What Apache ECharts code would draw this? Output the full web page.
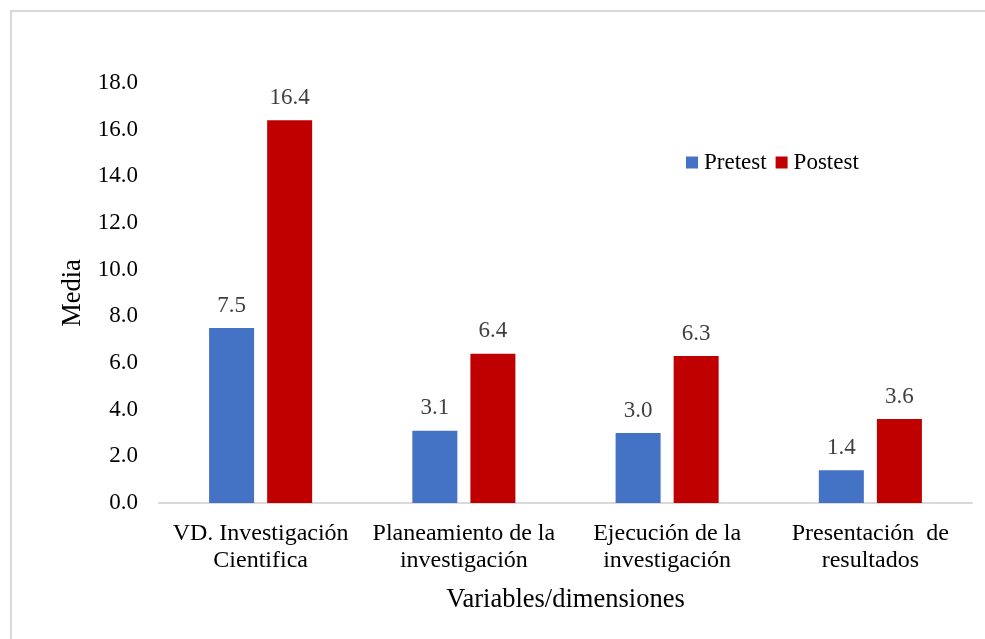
<!DOCTYPE html>
<html>
<head>
<meta charset="utf-8">
<script src="https://cdn.jsdelivr.net/npm/echarts@6/dist/echarts.min.js"></script>
<style>
  html, body { margin: 0; padding: 0; background: #fff; }
  #chart { width: 985px; height: 639px; }
</style>
</head>
<body>
<div id="chart"></div>
<script>
// Mean scores per dimension, before and after the intervention
const categories = [
  'VD. Investigación\nCientifica',
  'Planeamiento de la\ninvestigación',
  'Ejecución de la\ninvestigación',
  'Presentación  de\nresultados'
];
const pretest = [7.5, 3.1, 3.0, 1.4];
const postest = [16.4, 6.4, 6.3, 3.6];
const seriesNames = ['Pretest', 'Postest'];

const FONT = '"Liberation Serif", "Times New Roman", serif';

const chart = echarts.init(document.getElementById('chart'), null, { renderer: 'canvas' });

const labelStyle = {
  show: true,
  position: 'top',
  distance: 11,
  color: '#404040',
  fontFamily: FONT,
  fontSize: 23,
  formatter: p => p.value.toFixed(1)
};

chart.setOption({
  animation: false,
  backgroundColor: '#fff',
  graphic: [{
    type: 'rect',
    shape: { x: 11, y: 11, width: 1000, height: 700 },
    style: { fill: 'none', stroke: '#d9d9d9', lineWidth: 2 },
    silent: true,
    z: -1
  }],
  legend: {
    data: seriesNames,
    left: 681,
    top: 146,
    itemWidth: 12,
    itemHeight: 12,
    itemGap: 9,
    icon: 'rect',
    textStyle: { fontFamily: FONT, fontSize: 23, color: '#000', padding: [0, 0, 0, 1] }
  },
  grid: { left: 159, right: 13, top: 83, bottom: 136 },
  xAxis: {
    type: 'category',
    data: categories,
    name: 'Variables/dimensiones',
    nameLocation: 'middle',
    nameGap: 84,
    nameTextStyle: { fontFamily: FONT, fontSize: 26.5, color: '#000' },
    axisLine: { lineStyle: { color: '#d9d9d9', width: 2 } },
    axisTick: { show: false },
    axisLabel: {
      fontFamily: FONT, fontSize: 24, color: '#000',
      margin: 17, lineHeight: 27, interval: 0
    }
  },
  yAxis: {
    type: 'value',
    min: 0,
    max: 18,
    interval: 2,
    name: 'Media',
    nameLocation: 'middle',
    nameGap: 71,
    nameTextStyle: { fontFamily: FONT, fontSize: 26.5, color: '#000' },
    axisLine: { show: false },
    axisTick: { show: false },
    splitLine: { show: false },
    axisLabel: {
      fontFamily: FONT, fontSize: 23, color: '#000', margin: 21,
      formatter: v => v.toFixed(1)
    }
  },
  series: [
    {
      name: seriesNames[0],
      type: 'bar',
      data: pretest,
      barWidth: 45,
      barGap: '29%',
      itemStyle: { color: '#4472c4' },
      label: labelStyle
    },
    {
      name: seriesNames[1],
      type: 'bar',
      data: postest,
      barWidth: 45,
      itemStyle: { color: '#c00000' },
      label: labelStyle
    }
  ]
});
</script>
</body>
</html>
